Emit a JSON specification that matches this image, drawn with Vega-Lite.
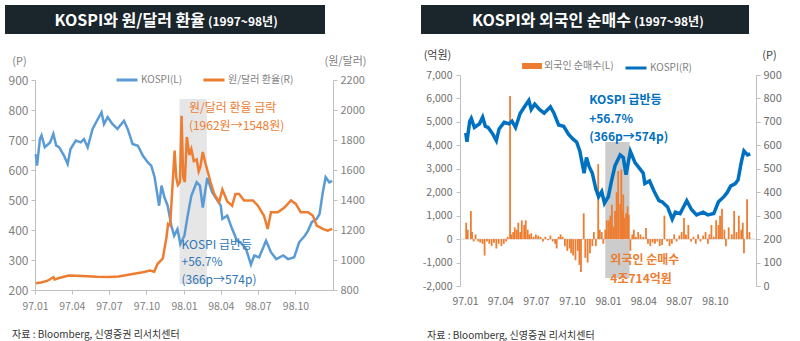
{
  "$schema": "https://vega.github.io/schema/vega-lite/v6.json",
  "padding": {"left": 5, "top": 5, "right": 0, "bottom": 0},
  "background": "white",
  "config": {
    "font": "Noto Sans CJK KR",
    "view": {"stroke": null},
    "axis": {"labelFont": "Noto Sans CJK KR", "labelColor": "#7f7f7f", "labelFontSize": 11, "domainColor": "#bfbfbf", "tickColor": "#bfbfbf", "grid": false, "titleFont": "Noto Sans CJK KR", "titleFontWeight": "normal", "titleColor": "#7f7f7f", "titleFontSize": 11, "labelOverlap": false, "labelFlush": false},
    "legend": {"labelFont": "Noto Sans CJK KR", "labelColor": "#7f7f7f", "labelFontSize": 10},
    "title": {"font": "Noto Sans CJK KR"}
  },
  "datasets": {
    "kospi": [
      {"d": "1997/01/03", "v": 653}, {"d": "1997/01/06", "v": 615}, {"d": "1997/01/13", "v": 703}, {"d": "1997/01/17", "v": 715},
      {"d": "1997/01/25", "v": 676}, {"d": "1997/02/07", "v": 692}, {"d": "1997/02/15", "v": 720}, {"d": "1997/02/22", "v": 681},
      {"d": "1997/03/01", "v": 676}, {"d": "1997/03/13", "v": 648}, {"d": "1997/03/22", "v": 620}, {"d": "1997/03/29", "v": 670},
      {"d": "1997/04/11", "v": 698}, {"d": "1997/04/23", "v": 692}, {"d": "1997/05/01", "v": 703}, {"d": "1997/05/10", "v": 676},
      {"d": "1997/05/22", "v": 737}, {"d": "1997/06/04", "v": 770}, {"d": "1997/06/13", "v": 792}, {"d": "1997/06/19", "v": 753},
      {"d": "1997/06/28", "v": 776}, {"d": "1997/07/10", "v": 753}, {"d": "1997/07/22", "v": 737}, {"d": "1997/08/07", "v": 764},
      {"d": "1997/08/16", "v": 737}, {"d": "1997/08/28", "v": 687}, {"d": "1997/09/10", "v": 681}, {"d": "1997/09/22", "v": 648},
      {"d": "1997/10/04", "v": 626}, {"d": "1997/10/13", "v": 614}, {"d": "1997/10/21", "v": 576}, {"d": "1997/11/01", "v": 481},
      {"d": "1997/11/07", "v": 548}, {"d": "1997/11/14", "v": 509}, {"d": "1997/11/22", "v": 481}, {"d": "1997/12/01", "v": 414},
      {"d": "1997/12/08", "v": 381}, {"d": "1997/12/16", "v": 403}, {"d": "1997/12/23", "v": 353}, {"d": "1998/01/02", "v": 381},
      {"d": "1998/01/10", "v": 448}, {"d": "1998/01/19", "v": 514}, {"d": "1998/02/01", "v": 559}, {"d": "1998/02/09", "v": 548},
      {"d": "1998/02/16", "v": 475}, {"d": "1998/02/27", "v": 574}, {"d": "1998/03/11", "v": 526}, {"d": "1998/03/19", "v": 509},
      {"d": "1998/04/01", "v": 481}, {"d": "1998/04/05", "v": 437}, {"d": "1998/04/17", "v": 448}, {"d": "1998/04/29", "v": 403},
      {"d": "1998/05/11", "v": 364}, {"d": "1998/05/19", "v": 359}, {"d": "1998/06/02", "v": 337}, {"d": "1998/06/14", "v": 285},
      {"d": "1998/06/22", "v": 315}, {"d": "1998/07/04", "v": 309}, {"d": "1998/07/21", "v": 364}, {"d": "1998/08/02", "v": 326},
      {"d": "1998/08/15", "v": 303}, {"d": "1998/09/01", "v": 315}, {"d": "1998/09/13", "v": 303}, {"d": "1998/09/28", "v": 309},
      {"d": "1998/10/10", "v": 359}, {"d": "1998/10/24", "v": 381}, {"d": "1998/11/01", "v": 398}, {"d": "1998/11/10", "v": 426},
      {"d": "1998/11/22", "v": 437}, {"d": "1998/11/29", "v": 453}, {"d": "1998/12/07", "v": 526}, {"d": "1998/12/14", "v": 576},
      {"d": "1998/12/23", "v": 559}, {"d": "1998/12/30", "v": 564}
    ],
    "won": [
      {"d": "1997/01/03", "v": 845}, {"d": "1997/01/16", "v": 850}, {"d": "1997/02/01", "v": 862}, {"d": "1997/02/15", "v": 885},
      {"d": "1997/02/18", "v": 870}, {"d": "1997/03/01", "v": 880}, {"d": "1997/03/25", "v": 896}, {"d": "1997/04/28", "v": 893},
      {"d": "1997/06/01", "v": 888}, {"d": "1997/07/01", "v": 887}, {"d": "1997/07/25", "v": 890}, {"d": "1997/08/28", "v": 907},
      {"d": "1997/09/22", "v": 918}, {"d": "1997/10/10", "v": 929}, {"d": "1997/10/20", "v": 922}, {"d": "1997/10/28", "v": 973},
      {"d": "1997/11/10", "v": 1010}, {"d": "1997/11/19", "v": 1150}, {"d": "1997/11/23", "v": 1240}, {"d": "1997/11/28", "v": 1230},
      {"d": "1997/12/04", "v": 1500}, {"d": "1997/12/09", "v": 1730}, {"d": "1997/12/13", "v": 1550}, {"d": "1997/12/17", "v": 1500},
      {"d": "1997/12/22", "v": 1520}, {"d": "1997/12/26", "v": 1962}, {"d": "1997/12/30", "v": 1550}, {"d": "1998/01/03", "v": 1520},
      {"d": "1998/01/08", "v": 1820}, {"d": "1998/01/14", "v": 1700}, {"d": "1998/01/19", "v": 1740}, {"d": "1998/01/25", "v": 1660},
      {"d": "1998/02/01", "v": 1670}, {"d": "1998/02/06", "v": 1590}, {"d": "1998/02/10", "v": 1620}, {"d": "1998/02/16", "v": 1720},
      {"d": "1998/02/23", "v": 1640}, {"d": "1998/03/07", "v": 1520}, {"d": "1998/03/16", "v": 1440}, {"d": "1998/03/28", "v": 1385},
      {"d": "1998/04/05", "v": 1470}, {"d": "1998/04/17", "v": 1390}, {"d": "1998/04/29", "v": 1362}, {"d": "1998/05/07", "v": 1440},
      {"d": "1998/05/16", "v": 1440}, {"d": "1998/05/28", "v": 1397}, {"d": "1998/06/19", "v": 1397}, {"d": "1998/07/01", "v": 1362},
      {"d": "1998/07/16", "v": 1295}, {"d": "1998/07/25", "v": 1207}, {"d": "1998/08/02", "v": 1318}, {"d": "1998/08/19", "v": 1318},
      {"d": "1998/09/04", "v": 1350}, {"d": "1998/09/20", "v": 1397}, {"d": "1998/10/02", "v": 1374}, {"d": "1998/10/14", "v": 1318},
      {"d": "1998/11/01", "v": 1318}, {"d": "1998/11/13", "v": 1295}, {"d": "1998/11/22", "v": 1229}, {"d": "1998/12/07", "v": 1207},
      {"d": "1998/12/19", "v": 1195}, {"d": "1998/12/30", "v": 1207}
    ],
    "foreign": [
      {"d": "1997/01/04", "v": 700}, {"d": "1997/01/08", "v": 400}, {"d": "1997/01/16", "v": 1200}, {"d": "1997/01/19", "v": 300},
      {"d": "1997/01/23", "v": -100}, {"d": "1997/01/28", "v": 200}, {"d": "1997/02/04", "v": -100}, {"d": "1997/02/09", "v": -150},
      {"d": "1997/02/15", "v": -200}, {"d": "1997/02/20", "v": -700}, {"d": "1997/02/26", "v": -100}, {"d": "1997/03/04", "v": -200},
      {"d": "1997/03/10", "v": -300}, {"d": "1997/03/16", "v": -150}, {"d": "1997/03/22", "v": -400}, {"d": "1997/03/28", "v": -200},
      {"d": "1997/04/04", "v": -300}, {"d": "1997/04/10", "v": -200}, {"d": "1997/04/16", "v": -100}, {"d": "1997/04/20", "v": 100},
      {"d": "1997/04/26", "v": 6100}, {"d": "1997/04/29", "v": 200}, {"d": "1997/05/04", "v": 300}, {"d": "1997/05/08", "v": 500},
      {"d": "1997/05/13", "v": 400}, {"d": "1997/05/17", "v": 700}, {"d": "1997/05/22", "v": 300}, {"d": "1997/05/26", "v": 800},
      {"d": "1997/06/01", "v": 600}, {"d": "1997/06/05", "v": 800}, {"d": "1997/06/10", "v": 400}, {"d": "1997/06/14", "v": 200},
      {"d": "1997/06/19", "v": 250}, {"d": "1997/06/25", "v": 100}, {"d": "1997/07/01", "v": 200}, {"d": "1997/07/07", "v": 150},
      {"d": "1997/07/13", "v": 100}, {"d": "1997/07/19", "v": -100}, {"d": "1997/07/25", "v": 100}, {"d": "1997/08/01", "v": -50},
      {"d": "1997/08/07", "v": 150}, {"d": "1997/08/13", "v": -100}, {"d": "1997/08/19", "v": -200}, {"d": "1997/08/23", "v": -400},
      {"d": "1997/08/28", "v": 100}, {"d": "1997/09/02", "v": 200}, {"d": "1997/09/07", "v": 100}, {"d": "1997/09/13", "v": -300},
      {"d": "1997/09/19", "v": -500}, {"d": "1997/09/25", "v": -400}, {"d": "1997/09/29", "v": -600}, {"d": "1997/10/04", "v": -700},
      {"d": "1997/10/10", "v": -900}, {"d": "1997/10/16", "v": -500}, {"d": "1997/10/20", "v": -1100}, {"d": "1997/10/24", "v": -1400},
      {"d": "1997/10/31", "v": 1100}, {"d": "1997/11/04", "v": -800}, {"d": "1997/11/10", "v": -1000}, {"d": "1997/11/16", "v": -600},
      {"d": "1997/11/22", "v": -300}, {"d": "1997/11/26", "v": 300}, {"d": "1997/12/01", "v": -300}, {"d": "1997/12/07", "v": 3200},
      {"d": "1997/12/11", "v": 400}, {"d": "1997/12/16", "v": 300}, {"d": "1997/12/20", "v": -200}, {"d": "1997/12/25", "v": 400},
      {"d": "1997/12/29", "v": 800}, {"d": "1998/01/03", "v": 800}, {"d": "1998/01/07", "v": 1000}, {"d": "1998/01/11", "v": 1470},
      {"d": "1998/01/15", "v": 540}, {"d": "1998/01/19", "v": 1200}, {"d": "1998/01/23", "v": 2000}, {"d": "1998/01/27", "v": 2900},
      {"d": "1998/02/01", "v": 1500}, {"d": "1998/02/04", "v": 2970}, {"d": "1998/02/07", "v": 1200}, {"d": "1998/02/09", "v": 1900},
      {"d": "1998/02/12", "v": 900}, {"d": "1998/02/16", "v": 1100}, {"d": "1998/02/20", "v": 1400}, {"d": "1998/02/23", "v": 1040},
      {"d": "1998/02/27", "v": -500}, {"d": "1998/03/04", "v": 200}, {"d": "1998/03/08", "v": 400}, {"d": "1998/03/13", "v": 100},
      {"d": "1998/03/19", "v": 300}, {"d": "1998/03/25", "v": 200}, {"d": "1998/04/01", "v": 100}, {"d": "1998/04/08", "v": 470},
      {"d": "1998/04/13", "v": -200}, {"d": "1998/04/19", "v": -300}, {"d": "1998/04/25", "v": -150}, {"d": "1998/05/01", "v": -200},
      {"d": "1998/05/07", "v": -100}, {"d": "1998/05/13", "v": -300}, {"d": "1998/05/19", "v": -250}, {"d": "1998/05/25", "v": 1000},
      {"d": "1998/06/01", "v": -100}, {"d": "1998/06/07", "v": -300}, {"d": "1998/06/13", "v": -200}, {"d": "1998/06/19", "v": 200},
      {"d": "1998/06/25", "v": -100}, {"d": "1998/07/02", "v": 150}, {"d": "1998/07/08", "v": 300}, {"d": "1998/07/14", "v": 900},
      {"d": "1998/07/19", "v": 200}, {"d": "1998/07/25", "v": 600}, {"d": "1998/08/01", "v": -100}, {"d": "1998/08/07", "v": 100},
      {"d": "1998/08/13", "v": -200}, {"d": "1998/08/19", "v": 200}, {"d": "1998/08/25", "v": -100}, {"d": "1998/09/01", "v": 150},
      {"d": "1998/09/07", "v": 300}, {"d": "1998/09/13", "v": -200}, {"d": "1998/09/17", "v": 200}, {"d": "1998/09/22", "v": 600},
      {"d": "1998/09/28", "v": 100}, {"d": "1998/10/04", "v": 800}, {"d": "1998/10/10", "v": 600}, {"d": "1998/10/14", "v": 1000},
      {"d": "1998/10/19", "v": 1300}, {"d": "1998/10/25", "v": 400}, {"d": "1998/10/29", "v": -300}, {"d": "1998/11/05", "v": 500},
      {"d": "1998/11/13", "v": 200}, {"d": "1998/11/19", "v": 1200}, {"d": "1998/11/25", "v": 300}, {"d": "1998/12/01", "v": 1000},
      {"d": "1998/12/07", "v": 400}, {"d": "1998/12/11", "v": 700}, {"d": "1998/12/14", "v": -600}, {"d": "1998/12/22", "v": 1700},
      {"d": "1998/12/28", "v": 300}
    ]
  },
  "resolve": {"scale": {"color": "independent"}},
  "spacing": 54,
  "hconcat": [
    {
      "spacing": 21,
      "resolve": {"scale": {"color": "independent"}},
      "vconcat": [
        {
          "width": 320, "height": 29,
          "view": {"fill": "#1b252c", "stroke": null},
          "data": {"values": [{}]},
          "layer": [
            {"mark": {"type": "text", "text": "KOSPI와 원/달러 환율", "align": "right", "baseline": "middle", "dx": 40, "dy": 1, "color": "white", "fontSize": 16, "fontWeight": "bold"}, "encoding": {}},
            {"mark": {"type": "text", "text": "(1997~98년)", "align": "left", "baseline": "middle", "dx": 43, "dy": 2, "color": "white", "fontSize": 12, "fontWeight": "bold"}, "encoding": {}}
          ]
        },
        {
          "spacing": 0,
          "resolve": {"scale": {"color": "independent"}},
          "hconcat": [
            {"width": 3, "height": 1, "data": {"values": []}, "mark": "point", "encoding": {}},
            {
              "width": 298, "height": 210,
              "title": {"text": "자료 : Bloomberg, 신영증권 리서치센터", "orient": "bottom", "anchor": "start", "frame": "group", "dx": -23, "offset": 18, "fontSize": 10, "fontWeight": "normal", "color": "#333333"},
              "layer": [
                {
                  "data": {"values": [{}]},
                  "mark": {"type": "rect", "color": "#e6e6e6"},
                  "encoding": {
                    "x": {"datum": {"year": 1997, "month": 12, "date": 21}, "type": "temporal"},
                    "x2": {"datum": {"year": 1998, "month": 2, "date": 26}},
                    "y": {"datum": 837, "type": "quantitative", "scale": {"domain": [200, 900], "nice": false, "zero": false}, "axis": null},
                    "y2": {"datum": 220}
                  }
                },
                {
                  "data": {"name": "kospi"},
                  "mark": {"type": "line", "strokeWidth": 2.5},
                  "encoding": {
                    "x": {"field": "d", "type": "temporal",
                      "scale": {"domain": [{"year": 1997, "month": 1, "date": 1}, {"year": 1999, "month": 1, "date": 1}], "nice": false},
                      "axis": {"values": [{"year": 1997, "month": 1, "date": 1}, {"year": 1997, "month": 4, "date": 1}, {"year": 1997, "month": 7, "date": 1}, {"year": 1997, "month": 10, "date": 1}, {"year": 1998, "month": 1, "date": 1}, {"year": 1998, "month": 4, "date": 1}, {"year": 1998, "month": 7, "date": 1}, {"year": 1998, "month": 10, "date": 1}],
                        "format": "%y.%m", "title": null, "tickSize": 4, "labelPadding": 7, "labelFontSize": 10.5}},
                    "y": {"field": "v", "type": "quantitative",
                      "scale": {"domain": [200, 900], "nice": false, "zero": false},
                      "axis": {"orient": "left", "values": [200, 300, 400, 500, 600, 700, 800, 900], "format": "d", "title": "(P)", "titleAngle": 0, "titleX": -16, "titleY": -19, "titleAlign": "center", "titleBaseline": "middle", "tickSize": 4, "labelPadding": 3, "labelFontSize": 12}},
                    "color": {"datum": "KOSPI(L)", "scale": {"domain": ["KOSPI(L)", "원/달러 환율(R)"], "range": ["#5B9BD5", "#ED7D31"]},
                      "legend": {"orient": "none", "legendX": 80, "legendY": -12, "direction": "horizontal", "title": null, "symbolType": "stroke", "symbolSize": 441, "symbolStrokeWidth": 3, "columnPadding": 14, "labelOffset": 2}}
                  }
                },
                {
                  "data": {"name": "won"},
                  "mark": {"type": "line", "strokeWidth": 2.5},
                  "encoding": {
                    "x": {"field": "d", "type": "temporal"},
                    "y": {"field": "v", "type": "quantitative",
                      "scale": {"domain": [800, 2200], "nice": false, "zero": false},
                      "axis": {"orient": "right", "values": [800, 1000, 1200, 1400, 1600, 1800, 2000, 2200], "format": "d", "title": "(원/달러)", "titleAngle": 0, "titleX": 12, "titleY": -19, "titleAlign": "center", "titleBaseline": "middle", "tickSize": 4, "labelPadding": 3}},
                    "color": {"datum": "원/달러 환율(R)"}
                  }
                },
                {
                  "data": {"values": [{}]},
                  "layer": [
                    {
                      "mark": {"type": "text", "text": ["KOSPI 급반등", "+56.7%", "(366p→574p)"], "align": "left", "baseline": "top", "lineHeight": 17.5, "fontSize": 12, "color": "#2E75B6"},
                      "encoding": {
                        "x": {"datum": {"year": 1997, "month": 12, "date": 26}, "type": "temporal"},
                        "y": {"datum": 367, "type": "quantitative", "scale": {"domain": [200, 900], "nice": false, "zero": false}, "axis": null}
                      }
                    },
                    {
                      "mark": {"type": "text", "text": ["원/달러 환율 급락", "(1962원→1548원)"], "align": "left", "baseline": "top", "lineHeight": 18, "fontSize": 12, "color": "#ED7D31"},
                      "encoding": {
                        "x": {"datum": {"year": 1998, "month": 1, "date": 13}, "type": "temporal"},
                        "y": {"datum": 823, "type": "quantitative", "axis": null}
                      }
                    }
                  ]
                }
              ],
              "resolve": {"scale": {"y": "independent"}}
            }
          ]
        }
      ]
    },
    {
      "spacing": 15,
      "resolve": {"scale": {"color": "independent"}},
      "vconcat": [
        {
          "width": 328, "height": 29,
          "view": {"fill": "#1b252c", "stroke": null},
          "data": {"values": [{}]},
          "layer": [
            {"mark": {"type": "text", "text": "KOSPI와 외국인 순매수", "align": "right", "baseline": "middle", "dx": 46, "dy": 1, "color": "white", "fontSize": 16, "fontWeight": "bold"}, "encoding": {}},
            {"mark": {"type": "text", "text": "(1997~98년)", "align": "left", "baseline": "middle", "dx": 49, "dy": 2, "color": "white", "fontSize": 12, "fontWeight": "bold"}, "encoding": {}}
          ]
        },
        {
          "spacing": 0,
          "resolve": {"scale": {"color": "independent"}},
          "hconcat": [
            {"width": 1, "height": 1, "data": {"values": []}, "mark": "point", "encoding": {}},
            {
              "width": 296, "height": 211,
              "title": {"text": "자료 : Bloomberg, 신영증권 리서치센터", "orient": "bottom", "anchor": "start", "frame": "group", "dx": -33, "offset": 24, "fontSize": 10, "fontWeight": "normal", "color": "#333333"},
              "layer": [
                {
                  "data": {"values": [{}]},
                  "layer": [
                    {
                      "mark": {"type": "rect", "color": "#cccccc"},
                      "encoding": {
                        "x": {"datum": {"year": 1997, "month": 12, "date": 25}, "type": "temporal"},
                        "x2": {"datum": {"year": 1998, "month": 2, "date": 25}},
                        "y": {"datum": 4142, "type": "quantitative", "scale": {"domain": [-2000, 7000], "nice": false}, "axis": null},
                        "y2": {"datum": -1659}
                      }
                    },
                    {
                      "mark": {"type": "rule", "color": "#d9d9d9", "strokeWidth": 1},
                      "encoding": {"y": {"datum": 0, "type": "quantitative", "axis": null}}
                    }
                  ]
                },
                {
                  "data": {"name": "foreign"},
                  "mark": {"type": "bar", "width": 1.8},
                  "encoding": {
                    "x": {"field": "d", "type": "temporal",
                      "scale": {"domain": [{"year": 1997, "month": 1, "date": 1}, {"year": 1999, "month": 1, "date": 1}], "nice": false},
                      "axis": {"values": [{"year": 1997, "month": 1, "date": 1}, {"year": 1997, "month": 4, "date": 1}, {"year": 1997, "month": 7, "date": 1}, {"year": 1997, "month": 10, "date": 1}, {"year": 1998, "month": 1, "date": 1}, {"year": 1998, "month": 4, "date": 1}, {"year": 1998, "month": 7, "date": 1}, {"year": 1998, "month": 10, "date": 1}],
                        "format": "%y.%m", "title": null, "domain": false, "ticks": false, "labelPadding": 10, "labelFontSize": 10.5, "labelColor": "#6e6e6e"}},
                    "y": {"field": "v", "type": "quantitative",
                      "scale": {"domain": [-2000, 7000], "nice": false},
                      "axis": {"orient": "left", "values": [-2000, -1000, 0, 1000, 2000, 3000, 4000, 5000, 6000, 7000], "labelExpr": "replace(format(datum.value, ','), '−', '-')", "title": "(억원)", "titleAngle": 0, "titleX": -23, "titleY": -20, "titleAlign": "center", "titleBaseline": "middle", "titleColor": "#404040", "tickSize": 4, "labelPadding": 4, "labelFontSize": 10.5, "labelColor": "#6e6e6e"}},
                    "color": {"datum": "외국인 순매수(L)", "scale": {"range": ["#ED7D31"]},
                      "legend": {"orient": "none", "legendX": 62, "legendY": -19, "title": null, "symbolType": "M-1,-0.3H1V0.3H-1Z", "symbolSize": 400, "symbolStrokeWidth": 0, "labelOffset": 2}}
                  }
                },
                {
                  "data": {"name": "kospi"},
                  "mark": {"type": "line", "strokeWidth": 3.5},
                  "encoding": {
                    "x": {"field": "d", "type": "temporal"},
                    "y": {"field": "v", "type": "quantitative",
                      "scale": {"domain": [0, 900], "nice": false},
                      "axis": {"orient": "right", "values": [0, 100, 200, 300, 400, 500, 600, 700, 800, 900], "title": "(P)", "titleAngle": 0, "titleX": 13, "titleY": -20, "titleAlign": "center", "titleBaseline": "middle", "titleColor": "#404040", "tickSize": 4, "labelPadding": 3, "labelColor": "#6e6e6e"}},
                    "color": {"datum": "KOSPI(R)", "scale": {"range": ["#0070C0"]},
                      "legend": {"orient": "none", "legendX": 164, "legendY": -19, "title": null, "symbolType": "stroke", "symbolSize": 441, "symbolStrokeWidth": 3, "labelOffset": 2}}
                  }
                },
                {
                  "data": {"values": [{}]},
                  "layer": [
                    {
                      "mark": {"type": "text", "text": ["KOSPI 급반등", "+56.7%", "(366p→574p)"], "align": "left", "baseline": "top", "lineHeight": 18.5, "fontSize": 12, "fontWeight": "bold", "color": "#0070C0"},
                      "encoding": {
                        "x": {"datum": {"year": 1997, "month": 11, "date": 14}, "type": "temporal"},
                        "y": {"datum": 6126, "type": "quantitative", "scale": {"domain": [-2000, 7000], "nice": false}, "axis": null}
                      }
                    },
                    {
                      "mark": {"type": "text", "text": ["외국인 순매수", "4조714억원"], "align": "left", "baseline": "top", "lineHeight": 19, "fontSize": 12, "fontWeight": "bold", "color": "#ED7D31"},
                      "encoding": {
                        "x": {"datum": {"year": 1998, "month": 1, "date": 7}, "type": "temporal"},
                        "y": {"datum": -677, "type": "quantitative", "axis": null}
                      }
                    }
                  ]
                }
              ],
              "resolve": {"scale": {"y": "independent", "color": "independent"}}
            }
          ]
        }
      ]
    }
  ]
}
